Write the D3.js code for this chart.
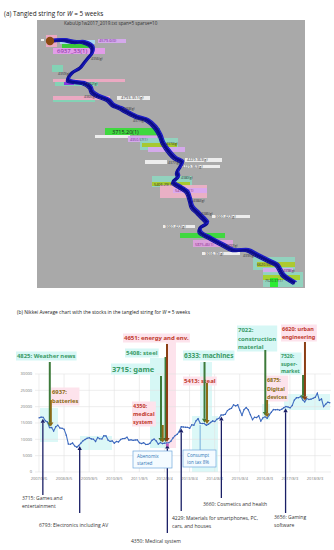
<!DOCTYPE html>
<html><head><meta charset="utf-8">
<script src="https://cdn.jsdelivr.net/npm/d3@7"></script>
<style>body{margin:0;background:#fff}svg{display:block;font-family:"Open Sans",sans-serif}</style>
</head><body><svg id="c" width="334" height="550"></svg>
<script>
// ---------- DATA ----------
// Nikkei average, monthly from 2007-08 to 2019-03
const nikkeiStart = "2007-08-06";
const nikkeiValues = [
16569,16786,16737,15680,15307,
13592,13603,12525,13849,14338,13481,13376,13072,11259,8576,8512,8859,
7994,7568,8109,8828,9522,9958,10356,10492,10133,10034,9345,10546,
10198,10126,11089,11057,9768,9382,9537,8824,9369,9202,9937,10228,
10237,10624,9755,9849,9693,9816,9833,8955,8700,8988,8434,8455,
8802,9723,10083,9520,8542,9006,8695,8839,8870,8928,9446,10395,
11138,11559,12397,13861,13774,13677,13668,13388,14455,14327,15662,16291,
14914,14841,14828,14304,14632,15162,15621,15425,16173,16414,17459,17450,
17674,18797,19207,19520,20563,20236,20585,18890,17388,19083,19747,19034,
17518,16027,16759,16666,17235,15576,16569,16887,16450,17425,18308,19114,
19041,19119,18909,19197,19651,20033,19925,19646,20356,22012,22725,22765,
23098,22068,21454,22468,22202,22305,22554,22865,24120,21920,22351,20015,
20773,21385,21206];
const yTicks = [0,5000,10000,15000,20000,25000,30000];
const xTickLabels = ["2007/8/6","2008/8/5","2009/8/5","2010/8/5","2011/8/5","2012/8/4","2013/8/4","2014/8/4","2015/8/4","2016/8/3","2017/8/3","2018/8/3"];

// stocks marked above the line (down arrows)
const topCodes  = ["4825","6937","3715","4350","5408","4651","6333","5413","7022","6875","7520","6620"];
const topDates  = ["2008-01-10","2008-01-25","2012-06-15","2012-07-10","2012-08-20","2012-09-10","2014-03-10","2014-04-15","2016-08-10","2016-09-05","2018-02-10","2018-03-10"];
const topKinds  = ["green","olive","green","olive","green","brown","green","olive","green","olive","green","brown"];
// stocks marked below the line (up arrows)
const bottomCodes = ["3715","6793","4350","4229","3660","3656"];
const bottomDates = ["2007-10-01","2009-03-20","2012-09-15","2013-04-05","2014-11-10","2017-06-01"];

// tangled string (panel a), string coordinates
const stringX = [13,26,38,46,55,55,51,47,43,35,31,38,46,53,55,61,71,76,83,90,100,110,118,123,126,133,138,145,143,140,141,136,143,150,153,155,161,166,170,163,163,173,186,196,210,220,230,240,243,246,253,258];
const stringY = [21,20,22,22,27,33,38,43,48,53,60,62,63,67,72,76,80,85,88,92,97,100,107,115,123,133,138,142,147,152,157,162,167,172,180,187,193,198,203,208,212,218,225,230,230,235,240,245,250,255,260,263];
const stringLabels = ["4579.6(0)","6937_33(1)","4793.351(g)","3715.20(1)","4350.57(1)","4229.363(g)","4229.363(g)","5406.29(1)","5413.44(1)","3660.422(g)","3660.422(g)","5875.46(1)","3656.39(g)","6620.55(1)","7520.37(1)"];
</script>
<script>
const svg = d3.select("#c");
svg.append("rect").attr("width",334).attr("height",550).attr("fill","#fff");

// ================= PANEL (a) =================
svg.append("text").attr("x",4).attr("y",16).attr("font-size",6.4).attr("fill","#222")
  .html('(a) Tangled string for <tspan font-style="italic">W</tspan> = 5 weeks');

const ax = d3.scaleLinear().domain([0,268]).range([37,305]);
const ay = d3.scaleLinear().domain([0,268]).range([20,288]);
const pa = svg.append("g");
pa.append("rect").attr("x",ax(0)).attr("y",ay(0)).attr("width",ax(268)-ax(0)).attr("height",ay(268)-ay(0)).attr("fill","#a9a9a9");
pa.append("text").attr("x",ax(27)).attr("y",ay(4.5)).attr("font-size",4.6).attr("fill","#333").text("KabuUp1w2017_2019.txt span=5 sparse=10");

// label boxes [x,y,w,h,fill] in string coords (layout)
const boxes = [
 [9,15,11,12,"#f3a8c4"],[23,20,35,4,"#a8dcf2"],[25,24,28,4,"#2fcc2f"],
 [61,19,28,4,"#d8a8f2"],[16,28,52,6,"#e89af0"],
 [15,45,11,7,"#7fd6b6"],[16,59,72,3,"#f2a8c4"],[18,62,43,4,"#7fd6b6"],[27,62,10,3,"#8a2be2"],
 [16,76,57,4,"#f2a8c4"],[16,80,42,2,"#7fd6b6"],[80,76,33,4,"#f4f4f4"],
 [68,108,55,7,"#33dd33"],[58,115,35,3,"#f4f4f4"],[91,116,29,6,"#d8a8f2"],
 [103,118,38,12,"#8fd6c0"],[105,123,35,4,"#a8c820"],[111,127,37,5,"#d8a8f2"],
 [148,138,37,4,"#f4f4f4"],[143,145,40,3,"#f4f4f4"],[108,140,22,4,"#f4f4f4"],
 [115,156,40,11,"#8fd6c0"],[115,162,38,4,"#a8c820"],[123,165,47,13,"#f0b0c8"],[136,168,34,5,"#d8a8f2"],
 [175,195,38,3,"#f4f4f4"],[126,205,32,3,"#f4f4f4"],
 [143,213,45,5,"#33dd33"],[156,220,40,7,"#e0a0e0"],[165,232,38,3,"#f4f4f4"],
 [216,237,42,13,"#8fd6c0"],[220,242,38,5,"#b0c820"],[226,248,30,5,"#d8a8f2"],
 [226,252,40,15,"#8fd6c0"],[226,255,37,5,"#a8d020"],[233,258,8,9,"#22ee22"]
];
pa.selectAll("rect.bx").data(boxes).join("rect").attr("class","bx")
  .attr("x",d=>ax(d[0])).attr("y",d=>ay(d[1])).attr("width",d=>ax(d[2])-ax(0)).attr("height",d=>ay(d[3])-ay(0))
  .attr("fill",d=>d[4]).attr("opacity",0.9);

// string labels placement (layout)
const strLabPos = [[62,22,4,"#7a2a9a"],[20,33,6,"#7a2a9a"],[84,79,4.2,"#333"],[75,114,5.5,"#222"],[93,121,3.6,"#6a2a8a"],
 [150,141,3.8,"#333"],[145,148,3.8,"#333"],[117,166,3.8,"#333"],[138,172,3.8,"#8a2a6a"],
 [178,198,3.8,"#333"],[128,208,3.8,"#333"],[158,226,3.8,"#8a2a8a"],[168,235,3.8,"#333"],[220,246,3.6,"#333"],[228,262,3.6,"#333"]];
pa.selectAll("text.sl").data(stringLabels).join("text").attr("class","sl")
  .attr("x",(d,i)=>ax(strLabPos[i][0])).attr("y",(d,i)=>ay(strLabPos[i][1]))
  .attr("font-size",(d,i)=>strLabPos[i][2]).attr("fill",(d,i)=>strLabPos[i][3]).text(d=>d);

// string path
const pts = stringX.map((x,i)=>[x,stringY[i]]);
const sLine = d3.line().x(d=>ax(d[0])).y(d=>ay(d[1])).curve(d3.curveCatmullRom);
pa.append("path").attr("d",sLine(pts)).attr("fill","none").attr("stroke","#0b0b8a").attr("stroke-width",3.4).attr("stroke-linejoin","round");
pa.append("path").attr("d",sLine(pts)).attr("transform","translate(1.6,-1.3)").attr("fill","none").attr("stroke","#1c1cc8").attr("stroke-width",1.3);
pa.append("path").attr("d",sLine(pts)).attr("transform","translate(-1.6,1.5)").attr("fill","none").attr("stroke","#10109e").attr("stroke-width",1.2);
// small gray tags along string
const tagIdx = [6,9,12,15,18,21,24,27,30,34,36,42,45,48];
pa.selectAll("text.tg").data(tagIdx).join("text").attr("class","tg")
  .attr("x",d=>ax(stringX[d])+ (d%2? -14:3)).attr("y",d=>ay(stringY[d])+2)
  .attr("font-size",3.4).attr("fill","#333").text(d=>"43"+(50+d)+"(g)");
pa.append("circle").attr("cx",ax(13)).attr("cy",ay(21)).attr("r",4.2).attr("fill","#8b4a12");
pa.append("rect").attr("x",ax(4)).attr("y",ay(19)).attr("width",3).attr("height",2).attr("fill","#f4f4f4");

// ================= PANEL (b) =================
svg.append("text").attr("x",17).attr("y",314).attr("font-size",4.9).attr("fill","#222")
  .html('(b) Nikkei Average chart with the stocks in the tangled string for <tspan font-style="italic">W</tspan> = 5 weeks');

const parse = d3.timeParse("%Y-%m-%d");
const d0 = parse(nikkeiStart);
const series = nikkeiValues.map((v,i)=>({date:d3.timeMonth.offset(d0,i), v}));
const x = d3.scaleTime().domain([parse("2007-08-06"),parse("2018-08-03")]).range([39,315]);
const y = d3.scaleLinear().domain([0,30000]).range([472,374]);
const pb = svg.append("g");
const L=35, R=331;

// highlight bands (layout)
const bands = [
 [40,408,18,34,"#dcf8f7"],[80,436,32,14,"#dcf8f7"],[150,358,16,90,"#d6f7f5"],[166,342,10,106,"#fde3ec"],
 [192,416,26,56,"#dcf8f7"],[200,362,12,66,"#dcf8f7"],[284,394,46,16,"#dcf8f7"],[262,404,8,16,"#dcf8f7"]
];
pb.selectAll("rect.band").data(bands).join("rect").attr("class","band")
  .attr("x",d=>d[0]).attr("y",d=>d[1]).attr("width",d=>d[2]).attr("height",d=>d[3]).attr("fill",d=>d[4]);

// grid
pb.selectAll("line.hg").data(yTicks).join("line").attr("class","hg")
  .attr("x1",L).attr("x2",R).attr("y1",d=>y(d)).attr("y2",d=>y(d)).attr("stroke","#e3e3e3").attr("stroke-width",0.6);
const xTickDates = xTickLabels.map(s=>d3.timeParse("%Y/%m/%d")(s));
pb.selectAll("line.vg").data(xTickDates).join("line").attr("class","vg")
  .attr("x1",d=>x(d)).attr("x2",d=>x(d)).attr("y1",y(30000)).attr("y2",y(0)).attr("stroke","#e3e3e3").attr("stroke-width",0.6);
pb.selectAll("text.yl").data(yTicks).join("text").attr("class","yl")
  .attr("x",32).attr("y",d=>y(d)+1.4).attr("text-anchor","end").attr("font-size",4).attr("fill","#777").text(d=>d);
pb.selectAll("text.xl").data(xTickLabels).join("text").attr("class","xl")
  .attr("x",(d,i)=>x(xTickDates[i])).attr("y",480).attr("text-anchor","middle").attr("font-size",4).attr("fill","#777").text(d=>d);

// label backgrounds + text for top stocks (layout)
const topLabels = [
 {t:["4825: Weather news"],x:17,y:358,fs:5.9,c:"#3a9a66",bg:"#d6f7f5"},
 {t:["6937:","batteries"],x:52,y:394,fs:5.8,c:"#8a6a10",bg:"#fde3ec",lh:9},
 {t:["3715: game"],x:112,y:372,fs:7.5,c:"#3a9a66",bg:"#d6f7f5"},
 {t:["4350:","medical","system"],x:133,y:408,fs:5.5,c:"#c0392b",bg:"#fde3ec",lh:8},
 {t:["5408: steel"],x:126,y:355,fs:6,c:"#3a9a66",bg:"#d6f7f5"},
 {t:["4651: energy and env."],x:124,y:340,fs:6,c:"#c0392b",bg:"#fde3ec"},
 {t:["6333: machines"],x:184,y:358,fs:6.5,c:"#3a9a66",bg:"#d6f7f5"},
 {t:["5413: steal"],x:184,y:383,fs:6,c:"#c0392b",bg:"#fde3ec"},
 {t:["7022:","construction","material"],x:238,y:332,fs:6,c:"#3a9a66",bg:"#d6f7f5",lh:8.5},
 {t:["6875:","Digital","devices"],x:267,y:382,fs:5.4,c:"#8a6a10",bg:"#fde3ec",lh:8.5},
 {t:["7520:","super-","market"],x:281,y:358,fs:5.1,c:"#3a9a66",bg:"#d6f7f5",lh:7.5},
 {t:["6620: urban","engineering"],x:282,y:331,fs:5.5,c:"#c0392b",bg:"#fde3ec",lh:8}
];
const labG = pb.append("g");
topLabels.forEach((lab,i)=>{
  const g = labG.append("g");
  const bgR = g.append("rect").attr("fill",lab.bg);
  const tx = g.append("text").attr("font-family","Noto Sans").attr("font-weight","bold").attr("font-size",lab.fs).attr("fill",lab.c);
  lab.t.forEach((s,k)=>tx.append("tspan").attr("x",lab.x).attr("y",lab.y+k*(lab.lh||8)).text(s));
  const bb = tx.node().getBBox();
  bgR.attr("x",bb.x-1).attr("y",bb.y-0.5).attr("width",bb.width+2).attr("height",bb.height+1);
  g.attr("data-code",topCodes[i]);
});

// line
const line = d3.line().x(d=>x(d.date)).y(d=>y(d.v));
pb.append("path").attr("d",line(series)).attr("fill","none").attr("stroke","#4472c4").attr("stroke-width",1.1);
pb.selectAll("circle.pt").data(series).join("circle").attr("class","pt")
  .attr("cx",d=>x(d.date)).attr("cy",d=>y(d.v)).attr("r",0.7).attr("fill","#3a62b8");

function valueAt(dt){
  const i = d3.bisector(d=>d.date).left(series, dt);
  if(i<=0) return series[0].v;
  if(i>=series.length) return series[series.length-1].v;
  const a=series[i-1], b=series[i];
  const t=(dt-a.date)/(b.date-a.date);
  return a.v+(b.v-a.v)*t;
}
function arrow(g,xp,y0,y1,col,w,hw,hl){
  const dir = y1>y0?1:-1;
  g.append("line").attr("x1",xp).attr("x2",xp).attr("y1",y0).attr("y2",y1-dir*hl).attr("stroke",col).attr("stroke-width",w);
  g.append("path").attr("d",`M${xp-hw},${y1-dir*hl} L${xp+hw},${y1-dir*hl} L${xp},${y1} Z`).attr("fill",col);
}
const kindCol = {green:"#3d7a3a", olive:"#8a6a16", brown:"#8b3e14"};
const topStart = [362,400,376,425,357,344,362,383,350,400,375,342];
const arrG = pb.append("g");
topCodes.forEach((c,i)=>{
  const dt = parse(topDates[i]);
  const xp = x(dt), tip = y(valueAt(dt))-1;
  arrow(arrG,xp,topStart[i],tip,kindCol[topKinds[i]],2,2.6,4);
});
// navy up arrows
const bottomText = [["3715: Games and","entertainment"],["6793: Electronics including AV"],["4350: Medical system"],["4229: Materials for smartphones, PC,","cars, and houses"],["3660: Cosmetics and health"],["3656: Gaming","software"]];
const bottomStart = [495,513,533,511,498,513];
const bottomPos = [[22,500],[39,527],[131,543],[172,520],[203,506],[274,519]];
bottomCodes.forEach((c,i)=>{
  const dt = parse(bottomDates[i]);
  const xp = x(dt), tip = y(valueAt(dt))+1.5;
  arrow(arrG,xp,bottomStart[i],tip,"#1a1f66",1.3,2.2,4);
  const tx = pb.append("text").attr("font-size",5).attr("fill","#333");
  bottomText[i].forEach((s,k)=>tx.append("tspan").attr("x",bottomPos[i][0]).attr("y",bottomPos[i][1]+k*8).text(s));
});
pb.append("circle").attr("cx",x(parse("2012-09-15"))).attr("cy",y(valueAt(parse("2012-09-15")))+2).attr("r",1.6).attr("fill","#c060c0");

// event boxes
const events = [["Abenomix","started"],["Consumpt","ion tax 8%"]];
const evPos = [[133,451,39,17],[183,450,33,17]];
events.forEach((e,i)=>{
  const p = evPos[i];
  pb.append("rect").attr("x",p[0]).attr("y",p[1]).attr("width",p[2]).attr("height",p[3]).attr("fill","#f4fbff").attr("stroke","#6fa8dc").attr("stroke-width",0.7);
  const tx = pb.append("text").attr("font-size",4.6).attr("fill","#2e75b6");
  e.forEach((s,k)=>tx.append("tspan").attr("x",p[0]+4).attr("y",p[1]+7+k*6.5).text(s));
});
const ctDate = parse("2014-01-05");
pb.append("line").attr("x1",x(ctDate)).attr("x2",x(ctDate)).attr("y1",450).attr("y2",y(valueAt(ctDate))+2).attr("stroke","#5b9bd5").attr("stroke-width",0.8);
</script></body></html>
